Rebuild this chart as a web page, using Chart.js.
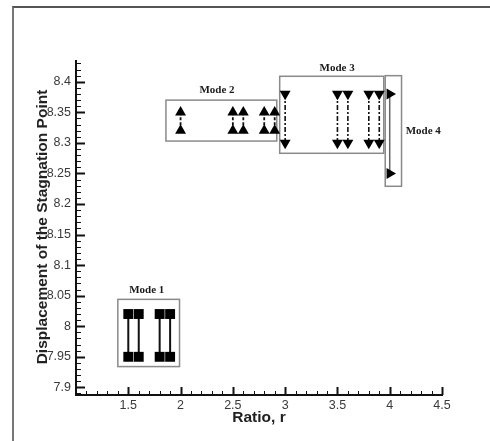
<!DOCTYPE html>
<html>
<head>
<meta charset="utf-8">
<script src="https://cdn.jsdelivr.net/npm/chart.js@4.4.1/dist/chart.umd.min.js"></script>
<style>
  html, body { margin: 0; padding: 0; background: #fff; }
  #wrap { position: relative; width: 490px; height: 441px; }
  #frame {
    position: absolute; left: 12px; top: 6px; right: 0; bottom: 0;
    border-left: 2px solid #777; border-top: 2px solid #555;
    pointer-events: none;
  }
</style>
</head>
<body>
<div id="wrap">
  <canvas id="chart"></canvas>
  <div id="frame"></div>
</div>
<script>
const xTicks = [1.5, 2, 2.5, 3, 3.5, 4, 4.5];
const yTicks = [7.9, 7.95, 8, 8.05, 8.1, 8.15, 8.2, 8.25, 8.3, 8.35, 8.4];

const mode1Ratio = [1.5, 1.6, 1.8, 1.9];
const mode1Upper = [8.02, 8.02, 8.02, 8.02];
const mode1Lower = [7.95, 7.95, 7.95, 7.95];

const mode2Ratio = [2.0, 2.5, 2.6, 2.8, 2.9];
const mode2Upper = [8.35, 8.35, 8.35, 8.35, 8.35];
const mode2Lower = [8.32, 8.32, 8.32, 8.32, 8.32];

const mode3Ratio = [3.0, 3.5, 3.6, 3.8, 3.9];
const mode3Upper = [8.38, 8.38, 8.38, 8.38, 8.38];
const mode3Lower = [8.30, 8.30, 8.30, 8.30, 8.30];

const mode4Ratio = [4.0];
const mode4Upper = [8.38];
const mode4Lower = [8.25];

const modeNames = ["Mode 1", "Mode 2", "Mode 3", "Mode 4"];

// boxes round each mode, in axis units: [xMin, xMax, yMin, yMax]
const modeBoxes = [
  [1.40, 1.99, 7.934, 8.044],
  [1.86, 2.92, 8.303, 8.370],
  [2.948, 3.943, 8.283, 8.409],
  [3.957, 4.113, 8.229, 8.410]
];
// label anchors in axis units
const modeLabelPos = [
  [1.677, 8.059],
  [2.348, 8.3855],
  [3.497, 8.423],
  [4.321, 8.320]
];

function pairSets(ratio, upper, lower, style) {
  return ratio.map((r, i) => ({
    data: [{ x: r, y: upper[i] }, { x: r, y: lower[i] }],
    showLine: true,
    borderColor: style.line,
    borderWidth: style.width,
    borderDash: style.dash,
    pointStyle: style.point,
    pointRadius: style.radius,
    pointRotation: style.rotation,
    pointBackgroundColor: "#000",
    pointBorderColor: "#000",
    pointBorderWidth: 0,
    pointHoverRadius: style.radius,
  }));
}

const datasets = [
  ...pairSets(mode1Ratio, mode1Upper, mode1Lower,
    { line: "#111", width: 2, dash: [], point: "rect", radius: 7, rotation: 0 }),
  ...pairSets(mode2Ratio, mode2Upper, mode2Lower,
    { line: "#111", width: 1.8, dash: [3, 2], point: "triangle", radius: 6.3, rotation: 0 }),
  ...pairSets(mode3Ratio, mode3Upper, mode3Lower,
    { line: "#111", width: 1.6, dash: [5, 2, 2, 2], point: "triangle", radius: 6.3, rotation: 180 }),
  ...pairSets(mode4Ratio, mode4Upper, mode4Lower,
    { line: "#666", width: 1.5, dash: [], point: "triangle", radius: 6.3, rotation: 90 }),
];

const boxPlugin = {
  id: "boxPlugin",
  beforeDatasetsDraw(chart) {
    const { ctx, scales: { x, y } } = chart;
    ctx.save();
    ctx.strokeStyle = "#8a8a8a";
    ctx.lineWidth = 1.5;
    modeBoxes.forEach((b) => {
      const x1 = x.getPixelForValue(b[0]);
      const x2 = x.getPixelForValue(b[1]);
      const y1 = y.getPixelForValue(b[3]);
      const y2 = y.getPixelForValue(b[2]);
      ctx.strokeRect(x1, y1, x2 - x1, y2 - y1);
    });
    ctx.fillStyle = "#1a1a1a";
    ctx.font = "bold 11px 'Liberation Serif', 'DejaVu Serif', serif";
    ctx.textAlign = "center";
    ctx.textBaseline = "middle";
    modeNames.forEach((name, i) => {
      ctx.fillText(name, x.getPixelForValue(modeLabelPos[i][0]), y.getPixelForValue(modeLabelPos[i][1]));
    });
    ctx.restore();
  },
};

const axisPlugin = {
  id: "axisPlugin",
  afterDraw(chart) {
    const { ctx, chartArea, scales: { x, y } } = chart;
    ctx.save();
    ctx.strokeStyle = "#111";
    // inward ticks on the x axis, minor every 0.1
    for (let i = 1; i <= 35; i++) {
      const major = i % 5 === 0;
      const px = Math.round(x.getPixelForValue(1 + i / 10)) + 0.5;
      ctx.lineWidth = major ? 2 : 1;
      ctx.beginPath();
      ctx.moveTo(px, chartArea.bottom);
      ctx.lineTo(px, chartArea.bottom - (major ? 8 : 4));
      ctx.stroke();
    }
    // inward ticks on the y axis, minor every 0.01
    for (let i = 0; i <= 54; i++) {
      const v = 7.89 + i / 100;
      const major = Math.abs(v * 20 - Math.round(v * 20)) < 1e-6;
      const py = Math.round(y.getPixelForValue(v)) + 0.5;
      ctx.lineWidth = major ? 2 : 1;
      ctx.beginPath();
      ctx.moveTo(chartArea.left, py);
      ctx.lineTo(chartArea.left + (major ? 9 : 5), py);
      ctx.stroke();
    }
    // axis titles
    ctx.fillStyle = "#222";
    ctx.font = "bold 15.5px 'Liberation Sans', Arial, sans-serif";
    ctx.textAlign = "center";
    ctx.textBaseline = "middle";
    ctx.fillText("Ratio, r", 259, 418);
    ctx.translate(42.5, 227);
    ctx.rotate(-Math.PI / 2);
    ctx.fillText("Displacement of the Stagnation Point", 0, 0);
    ctx.restore();
  },
};

new Chart(document.getElementById("chart"), {
  type: "scatter",
  data: { datasets },
  options: {
    responsive: true,
    maintainAspectRatio: false,
    animation: false,
    layout: { padding: { top: 61, right: 48, left: 0, bottom: 0 } },
    plugins: {
      legend: { display: false },
      tooltip: { enabled: false },
    },
    scales: {
      x: {
        type: "linear",
        min: 1,
        max: 4.5,
        afterBuildTicks: (scale) => { scale.ticks = xTicks.map((v) => ({ value: v })); },
        afterFit: (scale) => { scale.height = 46; },
        grid: { display: false, drawTicks: false },
        border: { display: true, color: "#111", width: 2 },
        ticks: {
          color: "#3a3a3a",
          padding: 3,
          font: { family: "'Liberation Sans', Arial, sans-serif", size: 12.5 },
          callback: (v) => String(v),
        },
      },
      y: {
        type: "linear",
        min: 7.8875,
        max: 8.434,
        afterBuildTicks: (scale) => { scale.ticks = yTicks.map((v) => ({ value: v })); },
        afterFit: (scale) => { scale.width = 76; },
        grid: { display: false, drawTicks: false },
        border: { display: true, color: "#111", width: 2 },
        ticks: {
          color: "#3a3a3a",
          padding: 5,
          font: { family: "'Liberation Sans', Arial, sans-serif", size: 12.5 },
          callback: (v) => String(Math.round(v * 100) / 100),
        },
      },
    },
  },
  plugins: [boxPlugin, axisPlugin],
});
</script>
</body>
</html>
